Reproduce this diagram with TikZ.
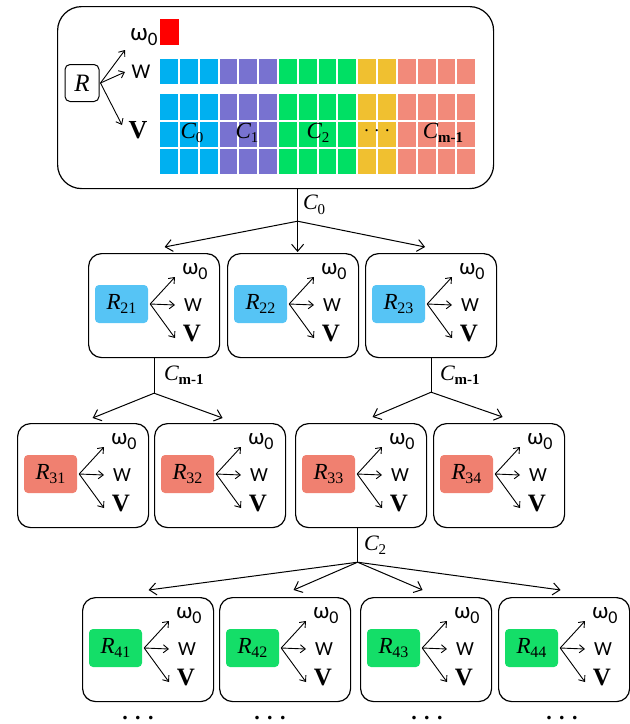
\documentclass[tikz,border=0pt]{standalone}
\usepackage{fontspec}
\setmainfont{Liberation Serif}
\newfontfamily\carl{Carlito}
\usetikzlibrary{arrows.meta}

\definecolor{cellcyan}{RGB}{0,176,240}
\definecolor{cellpurple}{RGB}{120,114,208}
\definecolor{cellgreen}{RGB}{0,224,100}
\definecolor{cellyellow}{RGB}{240,192,48}
\definecolor{cellsalmon}{RGB}{242,138,122}
\definecolor{tagblue}{RGB}{86,196,245}
\definecolor{tagsalmon}{RGB}{240,128,112}
\definecolor{taggreen}{RGB}{20,222,104}

% text pieces
\newcommand\fs[1]{\fontsize{#1}{#1}\selectfont}
\newcommand\omz[2]{{\carl\fs{#1}ω\raisebox{-0.22em}{\fs{#2}0}}}
\newcommand\rname[1]{{\fs{23}\textit{R}}\kern-0.5pt{\fs{16}\raisebox{-4.5pt}{#1}}}
\newcommand\csub[3]{{\fs{#1}\textit{C}}\kern-0.5pt{\fs{#2}\raisebox{-0.3em}{#3}}}

\tikzset{
  unitframe/.style={draw, line width=1.2pt, rounded corners=13pt,
    minimum width=131pt, minimum height=104pt, inner sep=0pt},
  rtag/.style={rounded corners=4pt, minimum width=53pt, minimum height=38pt, inner sep=0pt},
  lab/.style={inner sep=0pt},
  fan/.style={line width=0.9pt, -{Straight Barb[length=5pt,width=8pt]}},
  link/.style={line width=1pt, -{Straight Barb[length=7pt,width=12pt]}},
  trunk/.style={line width=1pt},
  cell/.style={inner sep=0pt, minimum width=17.8pt, anchor=north west},
}

% one rule box: #1 name, #2/#3 top-left corner, #4 index, #5 tag colour
\newcommand\levelbox[5]{%
  \node[unitframe, anchor=north west] (#1) at (#2,#3) {};
  \node[rtag, fill=#5] (#1-R) at ([shift={(33.5pt,-51pt)}]#1.north west) {\rname{#4}};
  \coordinate (#1-to) at ([shift={(87pt,-24pt)}]#1.north west);
  \coordinate (#1-tw) at ([shift={(87pt,-52pt)}]#1.north west);
  \coordinate (#1-tv) at ([shift={(87pt,-85pt)}]#1.north west);
  \node[lab] (#1-om) at ([shift={(107pt,-19pt)}]#1.north west) {\omz{23}{18}};
  \node[lab] (#1-w) at ([shift={(105pt,-52pt)}]#1.north west) {{\carl\fs{20}W}};
  \node[lab] (#1-v) at ([shift={(104pt,-80pt)}]#1.north west) {{\fs{25}\bfseries V}};
  \draw[fan] ([xshift=2pt]#1-R.east) -- (#1-to);
  \draw[fan] ([xshift=2pt]#1-R.east) -- (#1-tw);
  \draw[fan] ([xshift=2pt]#1-R.east) -- (#1-tv);
}

\begin{document}
\begin{tikzpicture}[x=1pt, y=-1pt]
\useasboundingbox (0,0) rectangle (630,724);

% ---- root rule with its weight grid ----
\node[draw, line width=1.2pt, rounded corners=24pt, minimum width=436pt,
  minimum height=182pt, inner sep=0pt, anchor=north west] (top) at (57,6) {};
\node[draw, line width=1pt, rounded corners=5pt, fill=white, minimum width=34pt,
  minimum height=37pt, inner sep=0pt] (root) at (82,83) {{\fs{25}\textit{R}}};
\node[lab] (rom) at (144,37) {\omz{25}{19}};
\node[lab] (rw) at (141,72) {{\carl\fs{21}W}};
\node[lab] (rv) at (138,130) {{\fs{26}\bfseries V}};
\coordinate (rto) at (125,50);
\coordinate (rtw) at (125,72);
\coordinate (rtv) at (122,125);
\draw[fan] ([xshift=1pt]root.east) -- (rto);
\draw[fan] ([xshift=1pt]root.east) -- (rtw);
\draw[fan] ([xshift=1pt]root.east) -- (rtv);
\node[fill=red, inner sep=0pt, minimum width=19pt, minimum height=26pt,
  anchor=north west] (bias) at (160,19) {};

\foreach \i/\c in {0/cellcyan,1/cellcyan,2/cellcyan,
                   3/cellpurple,4/cellpurple,5/cellpurple,
                   6/cellgreen,7/cellgreen,8/cellgreen,9/cellgreen,
                   10/cellyellow,11/cellyellow,
                   12/cellsalmon,13/cellsalmon,14/cellsalmon,15/cellsalmon}{
  \node[cell, fill=\c, minimum height=24.5pt] (w\i) at (160+\i*19.81, 59) {};
  \node[cell, fill=\c, minimum height=25.5pt] (va\i) at (160+\i*19.81, 94) {};
  \node[cell, fill=\c, minimum height=25.5pt] (vb\i) at (160+\i*19.81, 121.3) {};
  \node[cell, fill=\c, minimum height=25.5pt] (vc\i) at (160+\i*19.81, 148.6) {};
}
\node[lab] (g0) at (192,133) {\csub{23}{15}{0}};
\node[lab] (g1) at (247,133) {\csub{23}{15}{1}};
\node[lab] (g2) at (318,133) {\csub{23}{15}{2}};
\node[lab] (gd) at (377,131) {{\fs{18}. . .}};
\node[lab] (gm) at (443,133) {\csub{23}{15}{\bfseries m-1}};

% ---- second level ----
\levelbox{b21}{88}{253}{21}{tagblue}
\levelbox{b22}{227}{253}{22}{tagblue}
\levelbox{b23}{365}{253}{23}{tagblue}

\coordinate (j1) at ([shift={(22pt,-32pt)}]top.south);
\draw[trunk] (j1 |- top.south) -- (j1);
\node[lab, anchor=west] (l1) at (303,205) {\csub{22}{15}{0}};
\draw[link] (j1) -- ([shift={(10.5pt,6pt)}]b21.north);
\draw[link] (j1) -- ([yshift=1pt]j1 |- b22.north);
\draw[link] (j1) -- ([shift={(-6pt,6pt)}]b23.north);

% ---- third level ----
\levelbox{b31}{17}{423}{31}{tagsalmon}
\levelbox{b32}{154}{423}{32}{tagsalmon}
\levelbox{b33}{295}{423}{33}{tagsalmon}
\levelbox{b34}{433}{423}{34}{tagsalmon}

\coordinate (j2) at ([yshift=-35pt]b21.south);
\draw[trunk] (b21.south) -- (j2);
\node[lab, anchor=west] (l2) at (164,375) {\csub{22}{15}{\bfseries m-1}};
\draw[link] (j2) -- ([shift={(9.5pt,5pt)}]b31.north);
\draw[link] (j2) -- ([shift={(2.5pt,5pt)}]b32.north);

\coordinate (j3) at ([yshift=-34pt]b23.south);
\draw[trunk] (b23.south) -- (j3);
\node[lab, anchor=west] (l3) at (440,375) {\csub{22}{15}{\bfseries m-1}};
\draw[link] (j3) -- ([shift={(11.5pt,6pt)}]b33.north);
\draw[link] (j3) -- ([shift={(3.5pt,6pt)}]b34.north);

% ---- fourth level ----
\levelbox{b41}{82}{597}{41}{taggreen}
\levelbox{b42}{219}{597}{42}{taggreen}
\levelbox{b43}{360}{597}{43}{taggreen}
\levelbox{b44}{498}{597}{44}{taggreen}

\coordinate (j4) at ([shift={(-3.5pt,-34pt)}]b33.south);
\draw[trunk] (j4 |- b33.south) -- (j4);
\node[lab, anchor=west] (l4) at (364,545) {\csub{22}{15}{2}};
\draw[link] (j4) -- ([shift={(0.5pt,7pt)}]b41.north);
\draw[link] (j4) -- ([shift={(8.5pt,7pt)}]b42.north);
\draw[link] (j4) -- ([shift={(-3.5pt,7pt)}]b43.north);
\draw[link] (j4) -- ([shift={(-3.5pt,7pt)}]b44.north);

% ---- continuation marks ----
\foreach \n/\x in {d1/138, d2/270, d3/427, d4/562}
  \node[lab, anchor=base] (\n) at (\x,719.5) {{\fs{22}\bfseries . . .}};
\end{tikzpicture}
\end{document}
